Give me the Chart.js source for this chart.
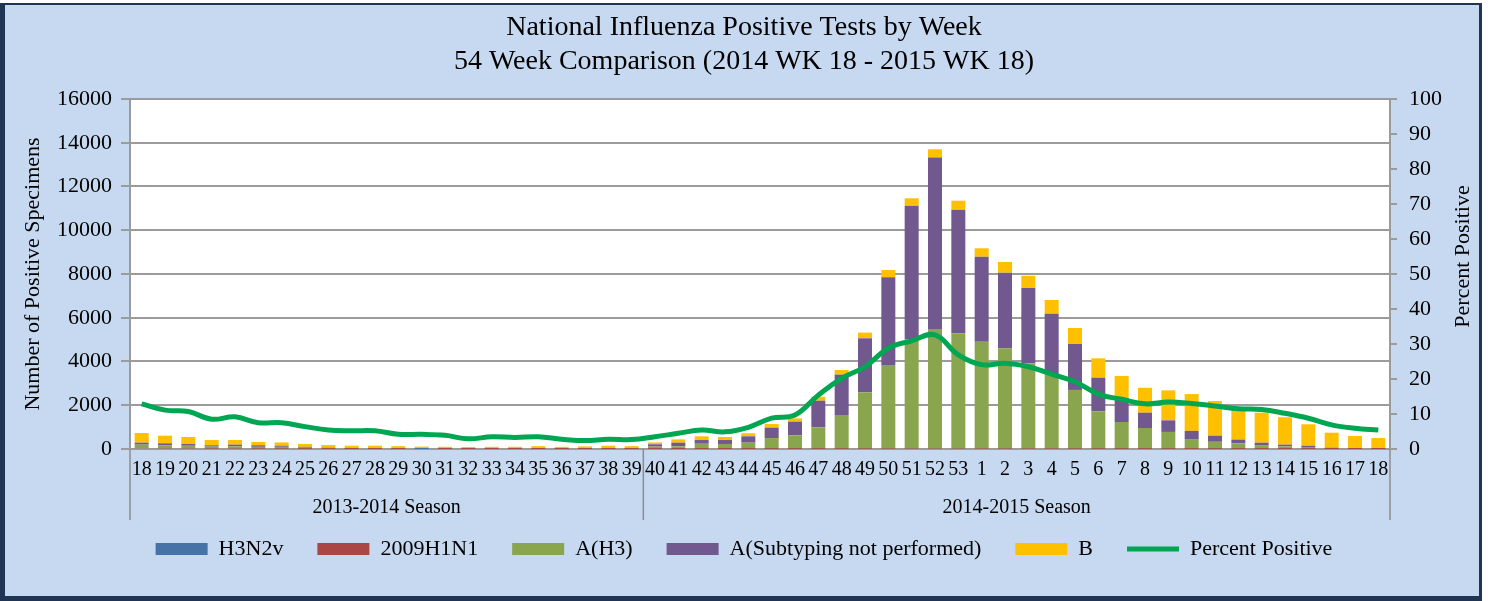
<!DOCTYPE html>
<html>
<head>
<meta charset="utf-8">
<title>National Influenza Positive Tests by Week</title>
<script src="https://cdn.jsdelivr.net/npm/chart.js@4.4.0/dist/chart.umd.min.js"></script>
<style>
  body { margin: 0; background: #fff; }
  #frame {
    position: absolute; left: 0; top: 3px; width: 1482px; height: 598px;
    box-sizing: border-box; background: #c6d9f1;
    border-style: solid; border-color: #1f3553; border-width: 2px 3px 5px 5px;
  }
  #chart { position: absolute; left: 0; top: 0; }
</style>
</head>
<body>
<div id="frame"></div>
<canvas id="chart" width="1488" height="601"></canvas>
<script>
// ----------------------------------------------------
// Data
// ----------------------------------------------------
const titleLines = ['National Influenza Positive Tests by Week', '54 Week Comparison (2014 WK 18 - 2015 WK 18)'];
const leftTitle = 'Number of Positive Specimens';
const rightTitle = 'Percent Positive';

const weekLabels = ['18','19','20','21','22','23','24','25','26','27','28','29','30','31','32','33','34','35','36','37','38','39',
                    '40','41','42','43','44','45','46','47','48','49','50','51','52','53',
                    '1','2','3','4','5','6','7','8','9','10','11','12','13','14','15','16','17','18'];
const seasonNames = ['2013-2014 Season', '2014-2015 Season'];
const seasonStarts = [0, 22]; // index of the first week of each season

const h3n2v = [0,0,0,0,0,0,0,0,0,0,0,0,1,0,0,0,0,0,0,0,0,0,
               0,0,0,0,0,0,0,0,0,0,0,0,0,0,
               0,0,0,0,0,0,0,0,0,0,0,0,0,0,0,0,0,0];
const h1n1 = [40,30,30,20,25,15,15,10,8,5,5,5,3,3,2,2,2,3,2,2,3,3,
              5,3,5,4,5,6,8,10,12,15,20,22,25,25,
              22,20,20,18,15,12,10,10,10,8,8,8,6,5,5,3,3,2];
const aH3 = [160,130,120,90,95,85,85,50,32,25,25,20,16,17,13,13,13,17,13,18,22,27,
             105,117,235,226,285,494,617,980,1543,2575,3820,4988,5465,5265,
             4883,4580,3900,3412,2685,1708,1225,950,770,447,322,252,174,115,85,27,17,13];
const aNotSubtyped = [90,100,80,60,80,70,50,40,20,20,20,15,15,10,10,10,10,15,15,15,15,20,
                      105,170,170,180,290,475,625,1220,1845,2470,4010,6110,7830,5650,
                      3885,3460,3440,2755,2100,1540,1085,700,530,375,280,170,110,80,60,30,20,15];
const fluB = [440,350,320,240,210,150,150,130,120,100,100,90,75,70,65,75,75,95,70,85,110,80,
              85,150,170,140,140,165,150,180,210,260,330,340,380,410,
              385,490,560,625,730,885,1020,1140,1370,1680,1580,1350,1370,1250,980,685,555,470];
const percentPositive = [12.9,11.1,10.7,8.5,9.2,7.5,7.5,6.4,5.4,5.2,5.2,4.2,4.2,3.9,2.9,3.5,3.3,3.5,2.8,2.4,2.8,2.7,
                         3.5,4.5,5.4,4.9,6.2,8.8,9.7,15.4,20.2,23.5,28.8,30.9,32.6,26.9,
                         24.1,24.5,23.5,21.4,19.2,15.7,14.2,12.9,13.4,13.0,12.3,11.5,11.3,10.2,8.8,6.9,5.9,5.4];

// ----------------------------------------------------
// Defaults
// ----------------------------------------------------
Chart.defaults.font.family = "'Liberation Serif', serif";
Chart.defaults.color = '#000';

const gridGrey = '#9b9b9b';

function barSet(label, data, color) {
    return {
        label: label,
        data: data,
        backgroundColor: color,
        borderWidth: 0,
        barPercentage: 0.6,
        categoryPercentage: 1.0,
        order: 1
    };
}

// white plot area, season row under the week numbers, right axis title (reads upwards)
const seasonPlugin = {
    id: 'seasons',
    beforeDraw(chart) {
        const {ctx, chartArea: a} = chart;
        ctx.save();
        ctx.fillStyle = '#ffffff';
        ctx.fillRect(a.left, a.top, a.right - a.left, a.bottom - a.top);
        ctx.restore();
    },
    afterDraw(chart) {
        const {ctx, chartArea: a} = chart;
        const x = chart.scales.x;
        const step = (x.right - x.left) / weekLabels.length;
        const edges = seasonStarts.concat([weekLabels.length]).map(i => x.left + i * step);
        ctx.save();
        ctx.strokeStyle = '#8c8c8c';
        ctx.lineWidth = 1.5;
        edges.forEach(px => {
            ctx.beginPath();
            ctx.moveTo(px, a.bottom);
            ctx.lineTo(px, a.bottom + 71);
            ctx.stroke();
        });
        ctx.fillStyle = '#000';
        ctx.font = "20px 'Liberation Serif'";
        ctx.textAlign = 'center';
        ctx.textBaseline = 'middle';
        seasonNames.forEach((name, i) => {
            ctx.fillText(name, (edges[i] + edges[i + 1]) / 2, a.bottom + 59);
        });

        // right axis title
        const y1 = chart.scales.y1;
        ctx.font = "22px 'Liberation Serif'";
        ctx.translate(y1.right - 25, a.top + (a.bottom - a.top) * 0.45);
        ctx.rotate(-Math.PI / 2);
        ctx.fillText(rightTitle, 0, 0);
        ctx.restore();
    }
};

new Chart(document.getElementById('chart'), {
    type: 'bar',
    data: {
        labels: weekLabels,
        datasets: [
            barSet('H3N2v', h3n2v, '#4572a7'),
            barSet('2009H1N1', h1n1, '#aa4643'),
            barSet('A(H3)', aH3, '#89a54e'),
            barSet('A(Subtyping not performed)', aNotSubtyped, '#71588f'),
            barSet('B', fluB, '#ffc000'),
            {
                type: 'line',
                label: 'Percent Positive',
                data: percentPositive,
                yAxisID: 'y1',
                borderColor: '#00a651',
                backgroundColor: '#00a651',
                borderWidth: 5,
                pointRadius: 0,
                tension: 0.4,
                fill: false,
                order: 0
            }
        ]
    },
    options: {
        responsive: false,
        animation: false,
        layout: { padding: { top: 0, left: 0, right: 0, bottom: 31 } },
        plugins: {
            title: {
                display: true,
                text: titleLines,
                color: '#000',
                font: { size: 28, weight: 'normal', lineHeight: 1.214 },
                padding: { top: 11, bottom: 20 }
            },
            legend: {
                position: 'bottom',
                labels: {
                    font: { size: 22 },
                    color: '#000',
                    usePointStyle: true,
                    pointStyleWidth: 52,
                    boxHeight: 12,
                    padding: 34,
                    sort: (a, b) => a.datasetIndex - b.datasetIndex,
                    generateLabels: function(chart) {
                        const items = Chart.defaults.plugins.legend.labels.generateLabels(chart);
                        items.forEach(it => {
                            it.pointStyle = chart.data.datasets[it.datasetIndex].type === 'line' ? 'line' : 'rect';
                        });
                        return items;
                    }
                }
            },
            tooltip: { enabled: false }
        },
        scales: {
            x: {
                stacked: true,
                grid: { display: false, drawTicks: false },
                border: { color: gridGrey, width: 2 },
                ticks: { font: { size: 20 }, padding: 9, maxRotation: 0, autoSkip: false },
                afterFit: (scale) => { scale.height = 55; }
            },
            y: {
                position: 'left',
                stacked: true,
                min: 0,
                max: 16000,
                ticks: { stepSize: 2000, font: { size: 22 }, padding: 9, callback: v => String(v) },
                grid: { color: gridGrey, lineWidth: 2, tickLength: 9 },
                border: { color: gridGrey, width: 2 },
                title: {
                    display: true,
                    text: leftTitle,
                    font: { size: 22 },
                    padding: { top: 20, bottom: 0 }
                },
                afterFit: (scale) => { scale.width = 130; }
            },
            y1: {
                position: 'right',
                min: 0,
                max: 100,
                ticks: { stepSize: 10, font: { size: 22 }, padding: 12, callback: v => String(v) },
                grid: { drawOnChartArea: false, color: gridGrey, lineWidth: 2, tickLength: 7 },
                border: { color: gridGrey, width: 2 },
                afterFit: (scale) => { scale.width = 98; }
            }
        }
    },
    plugins: [seasonPlugin]
});
</script>
</body>
</html>
